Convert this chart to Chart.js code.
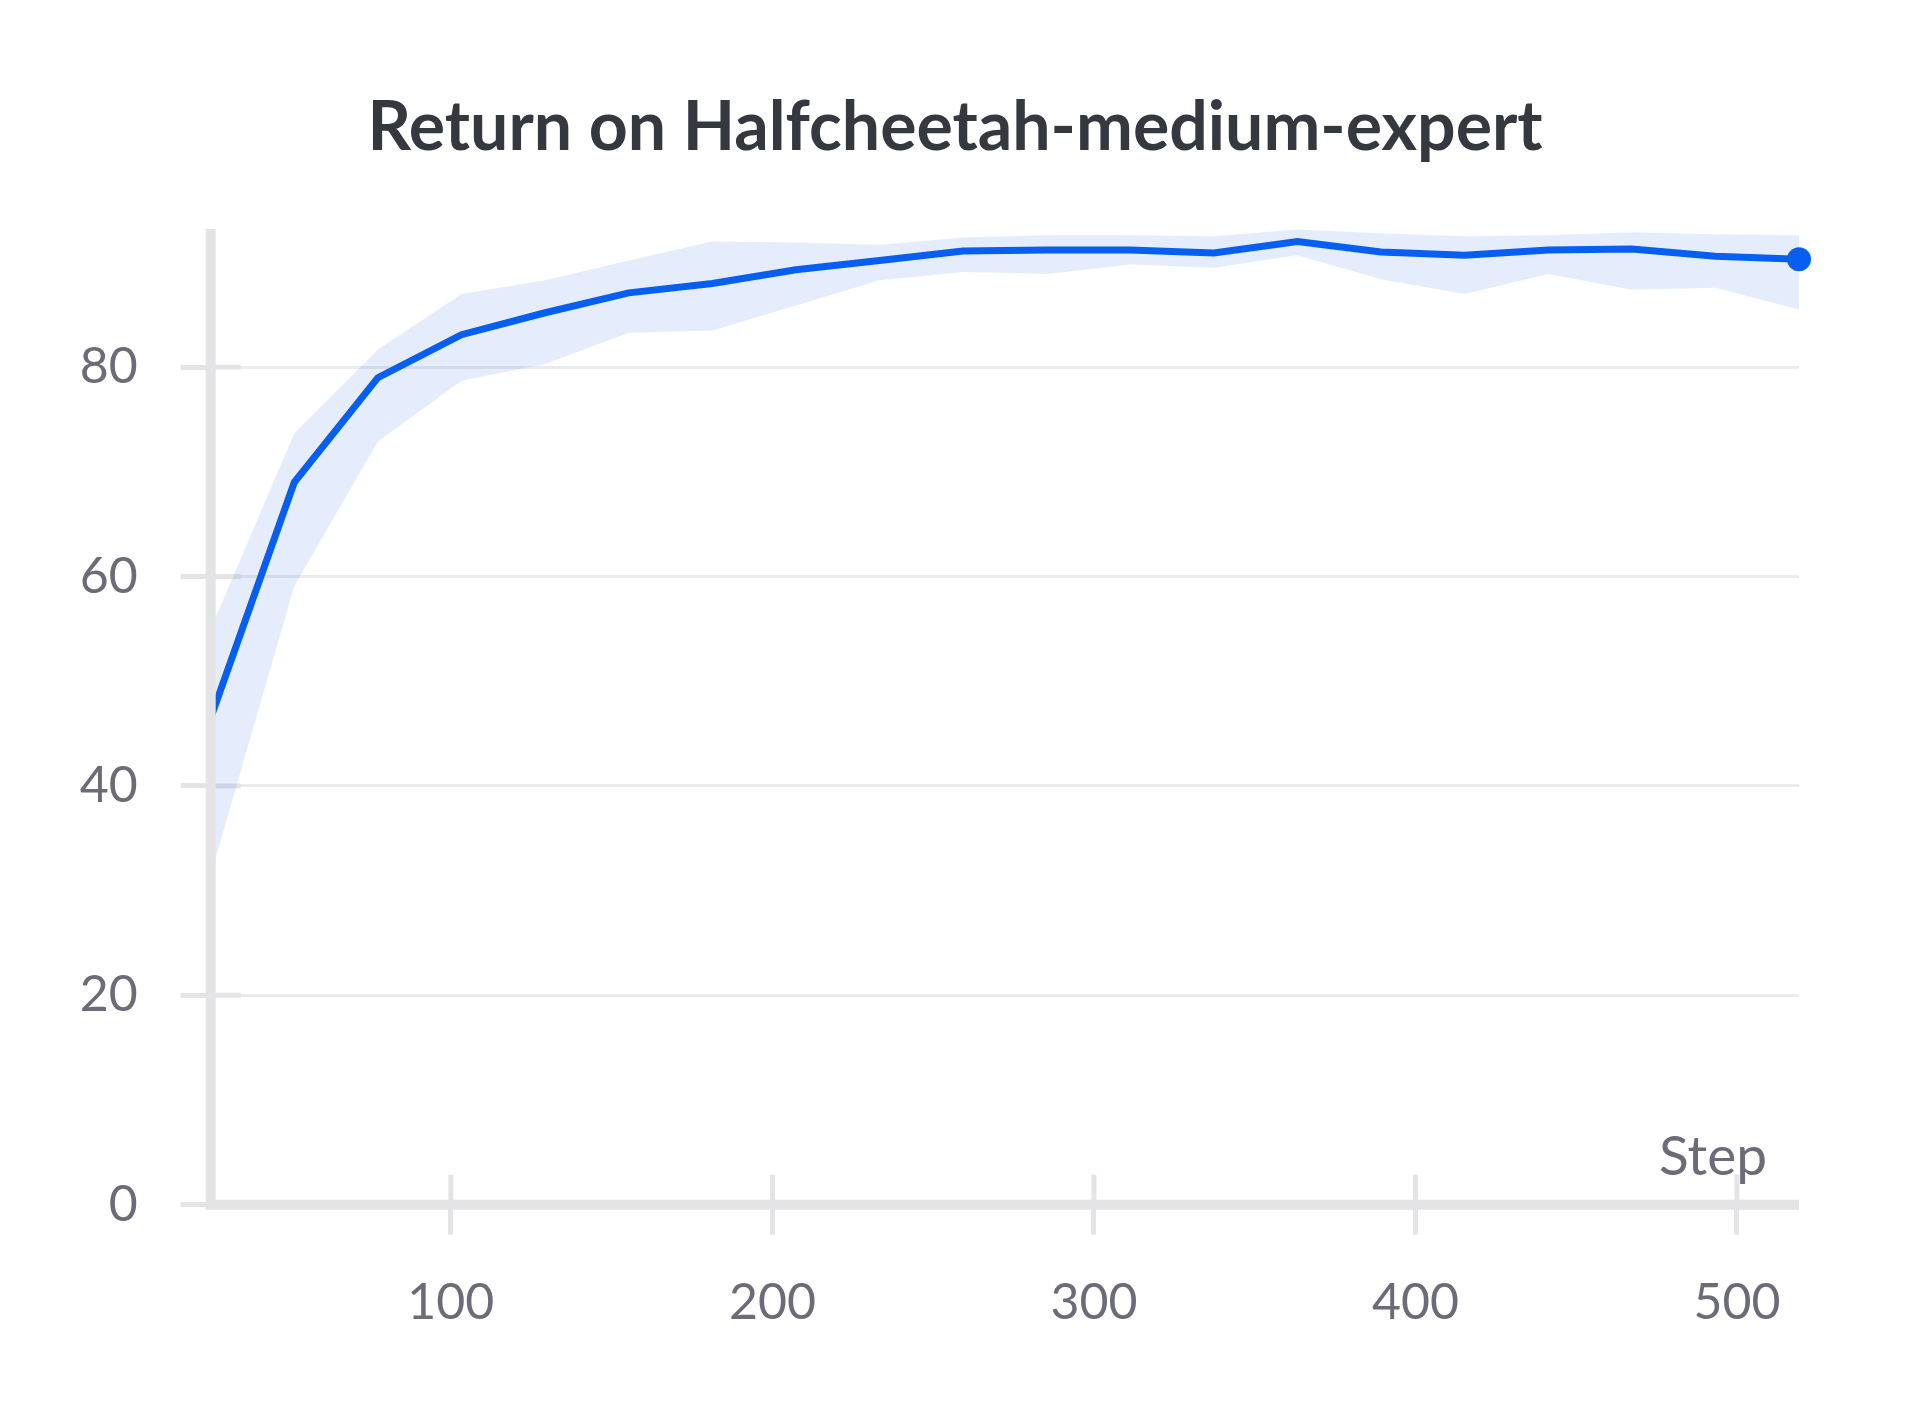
<!DOCTYPE html>
<html>
  <head>
    <title>Return on Halfcheetah-medium-expert</title>
    <meta charset="utf-8" />
    <style>
      html, body { margin: 0; padding: 0; background: #fff; }
      #chart-container { width: 1910px; height: 1410px; }
    </style>
  </head>
  <body>
    <div id="chart-container">
      <canvas id="return-chart"></canvas>
    </div>

    <script src="https://cdn.jsdelivr.net/npm/chart.js"></script>
    <script>
      var steps = [25.3, 51.3, 77.3, 103.3, 129.3, 155.3, 181.3, 207.3, 233.3, 259.3, 285.3, 311.3, 337.3, 363.3, 389.3, 415.3, 441.3, 467.3, 493.3, 519.3];
      var meanReturn = [46.5, 69.0, 79.0, 83.1, 85.2, 87.1, 88.0, 89.3, 90.2, 91.1, 91.2, 91.2, 90.9, 92.0, 91.0, 90.7, 91.2, 91.3, 90.6, 90.3];
      var upperReturn = [55.0, 73.7, 81.7, 87.0, 88.3, 90.2, 92.0, 91.9, 91.7, 92.4, 92.6, 92.6, 92.5, 93.15, 92.8, 92.5, 92.6, 92.9, 92.7, 92.6];
      var lowerReturn = [31.5, 59.1, 72.9, 78.7, 80.3, 83.3, 83.5, 85.9, 88.3, 89.1, 88.9, 89.8, 89.5, 90.7, 88.4, 87.0, 88.9, 87.4, 87.6, 85.5];
      var xTicks = [100, 200, 300, 400, 500];
      var yTicks = [0, 20, 40, 60, 80];

      var blue = "#065ff0";
      var axisGrey = "#e4e4e7";
      var textGrey = "#6c6c78";
      var fontFamily = "Lato, 'Noto Sans', sans-serif";

      function toPoints(ys) {
        return steps.map(function (s, i) { return { x: s, y: ys[i] }; });
      }

      // only the last point gets a dot
      var pointSizes = steps.map(function (s, i) { return i === steps.length - 1 ? 12 : 0; });

      // axis lines, short tick marks inside the plot and the "Step" label
      var axisDecor = {
        id: "axisDecor",
        beforeDatasetsDraw: function (chart) {
          var ctx = chart.ctx;
          var area = chart.chartArea;
          var xs = chart.scales.x;
          var ys = chart.scales.y;
          ctx.save();
          ctx.strokeStyle = axisGrey;
          ctx.lineWidth = 5;
          xTicks.forEach(function (v) {
            var px = xs.getPixelForValue(v);
            ctx.beginPath();
            ctx.moveTo(px, area.bottom);
            ctx.lineTo(px, area.bottom - 30);
            ctx.stroke();
          });
          yTicks.forEach(function (v) {
            var py = ys.getPixelForValue(v);
            ctx.beginPath();
            ctx.moveTo(area.left, py);
            ctx.lineTo(area.left + 30, py);
            ctx.stroke();
          });
          ctx.restore();
        },
        afterDatasetsDraw: function (chart) {
          var ctx = chart.ctx;
          var area = chart.chartArea;
          ctx.save();
          ctx.strokeStyle = axisGrey;
          ctx.lineWidth = 10;
          ctx.beginPath();
          ctx.moveTo(area.left, area.top);
          ctx.lineTo(area.left, area.bottom + 5);
          ctx.moveTo(area.left - 5, area.bottom);
          ctx.lineTo(area.right, area.bottom);
          ctx.stroke();
          ctx.restore();
        },
        afterDraw: function (chart) {
          var ctx = chart.ctx;
          var area = chart.chartArea;
          ctx.save();
          ctx.fillStyle = textGrey;
          ctx.font = "55px " + fontFamily;
          ctx.textAlign = "right";
          ctx.textBaseline = "alphabetic";
          ctx.fillText("Step", area.right - 32, area.bottom - 30);
          ctx.restore();
        },
      };

      var chart = new Chart(document.getElementById("return-chart"), {
        type: "line",
        data: {
          datasets: [
            {
              label: "min",
              data: toPoints(lowerReturn),
              borderWidth: 0,
              pointRadius: 0,
              fill: false,
              order: 1,
            },
            {
              label: "max",
              data: toPoints(upperReturn),
              borderWidth: 0,
              pointRadius: 0,
              backgroundColor: "rgba(0, 80, 230, 0.1)",
              fill: "-1",
              order: 2,
            },
            {
              label: "Return",
              data: toPoints(meanReturn),
              borderColor: blue,
              backgroundColor: blue,
              borderWidth: 7,
              pointRadius: pointSizes,
              pointBorderWidth: 0,
              fill: false,
              tension: 0,
              order: 0,
              clip: { left: 0, top: 20, right: 20, bottom: 0 },
            },
          ],
        },
        options: {
          responsive: true,
          maintainAspectRatio: false,
          animation: false,
          layout: { padding: 0 },
          plugins: {
            legend: { display: false },
            tooltip: { enabled: false },
            title: {
              display: true,
              text: "Return on Halfcheetah-medium-expert",
              color: "#35383e",
              font: { family: fontFamily, size: 68, weight: "bold" },
              padding: { top: 87, bottom: 60.4 },
            },
          },
          scales: {
            x: {
              type: "linear",
              min: 25.3,
              max: 519.3,
              afterFit: function (scale) { scale.height = 205.3; },
              afterBuildTicks: function (scale) {
                scale.ticks = xTicks.map(function (v) { return { value: v }; });
              },
              grid: {
                drawOnChartArea: false,
                drawTicks: true,
                tickLength: 30,
                tickWidth: 5,
                tickColor: axisGrey,
              },
              border: { display: false },
              ticks: {
                color: textGrey,
                font: { family: fontFamily, size: 50 },
                padding: 38,
                maxRotation: 0,
              },
            },
            y: {
              min: 0,
              max: 93.2,
              afterFit: function (scale) { scale.width = 210.7; },
              afterBuildTicks: function (scale) {
                scale.ticks = yTicks.map(function (v) { return { value: v }; });
              },
              grid: {
                color: "#ebebed",
                lineWidth: 3,
                drawTicks: true,
                tickLength: 30,
                tickWidth: 5,
                tickColor: axisGrey,
              },
              border: { display: false },
              ticks: {
                color: textGrey,
                font: { family: fontFamily, size: 50 },
                padding: 43,
              },
            },
            // empty right-hand axis that only reserves the right margin
            spacer: {
              position: "right",
              grid: { display: false },
              border: { display: false },
              ticks: { display: false },
              afterFit: function (scale) { scale.width = 111; },
            },
          },
        },
        plugins: [axisDecor],
      });
    </script>
  </body>
</html>
